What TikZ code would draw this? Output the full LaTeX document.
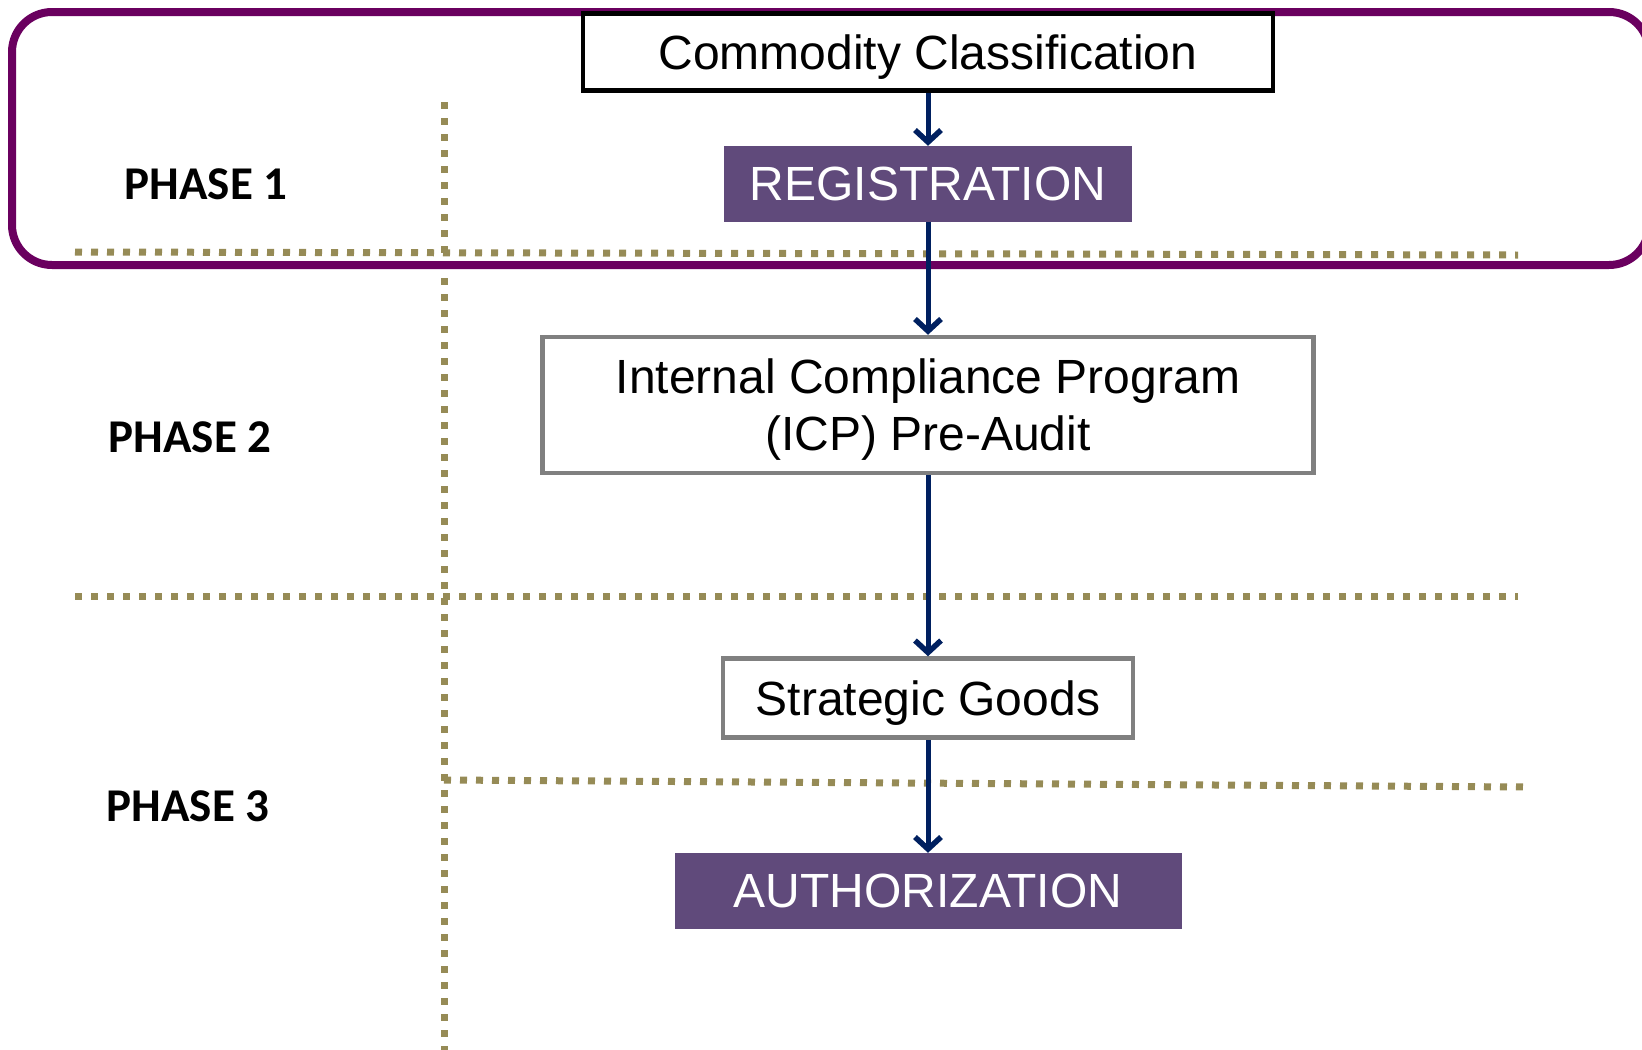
\documentclass[tikz,border=0pt]{standalone}
\usepackage{fontspec}
\setmainfont{Liberation Sans}
\newfontfamily\phasefont{Carlito}
\usepackage{tikz}
\usetikzlibrary{
  positioning,
  arrows.meta
}
\definecolor{frameviolet}{RGB}{106,0,95}
\definecolor{stepviolet}{RGB}{96,74,123}
\definecolor{linenavy}{RGB}{0,32,96}
\definecolor{dotolive}{RGB}{150,139,86}
\definecolor{boxgray}{RGB}{128,128,128}
\tikzstyle{flow}=[-{Straight Barb[length=12pt,width=26pt,line width=5.5pt]}, line width=5pt, linenavy]
\tikzstyle{divider}=[line width=7pt, dash pattern=on 7pt off 9pt, dotolive]
\tikzstyle{boxtext}=[inner sep=0pt, align=center, text depth=0pt, font=\fontsize{48}{57}\selectfont]
\tikzstyle{blackbox}=[boxtext, draw=black, line width=4.5pt, fill=white]
\tikzstyle{graybox}=[boxtext, draw=boxgray, line width=4.5pt, fill=white]
\tikzstyle{violetbox}=[boxtext, fill=stepviolet, text=white]
\tikzstyle{phaselabel}=[inner sep=0pt, font=\phasefont\bfseries\fontsize{47}{50}\selectfont]

\begin{document}
\begin{tikzpicture}[x=1pt, y=-1pt]
    \useasboundingbox (0,0) rectangle (1642,1050);
    \def\xmid{928}

    % 点線の区切り
    \draw[divider] (444,102) -- (444,1050);
    \draw[divider] (75,252) -- (1518,255);
    \draw[divider] (75,596) -- (1518,596);
    \draw[divider] (444,780) -- (1525,787);

    % PHASE 1 の枠
    \draw[frameviolet, line width=8pt, rounded corners=40pt] (12,12) rectangle (1649,265);

    % 各フェーズのラベル
    \node[phaselabel] (phase1) at (206,184) {PHASE 1};
    \node[phaselabel] (phase2) at (190,437) {PHASE 2};
    \node[phaselabel] (phase3) at (188,806) {PHASE 3};

    % 手順の箱
    \node[blackbox, minimum width=690pt, minimum height=77pt] (commodity) at (\xmid,52) {Commodity Classification};
    \node[violetbox, minimum width=408pt, minimum height=76pt] (registration) at (\xmid,184) {REGISTRATION};
    \node[graybox, minimum width=771pt, minimum height=136pt] (icp) at (\xmid,405) {Internal Compliance Program\\(ICP) Pre-Audit};
    \node[graybox, minimum width=410pt, minimum height=79pt] (strategic) at (\xmid,698) {Strategic Goods};
    \node[violetbox, minimum width=507pt, minimum height=76pt] (authorization) at (\xmid,891) {AUTHORIZATION};

    % 矢印
    \draw[flow] (commodity) -- (registration);
    \draw[flow] (registration) -- (icp);
    \draw[flow] (icp) -- (strategic);
    \draw[flow] (strategic) -- (authorization);
\end{tikzpicture}
\end{document}
